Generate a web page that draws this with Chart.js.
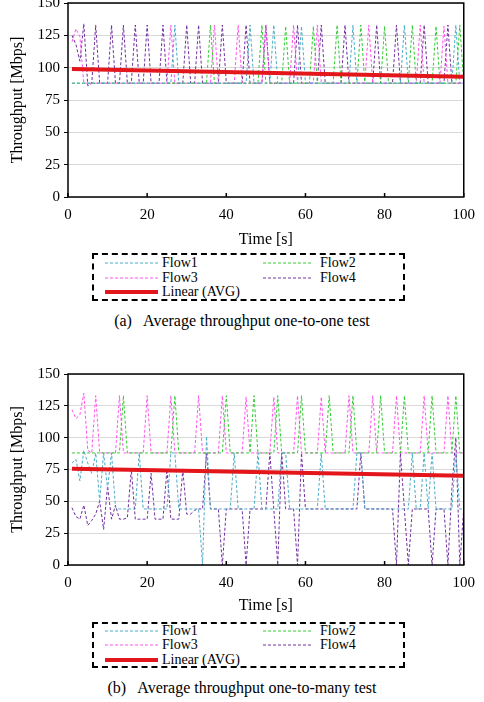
<!DOCTYPE html>
<html>
<head>
<meta charset="utf-8">
<script src="https://cdn.jsdelivr.net/npm/chart.js@4/dist/chart.umd.min.js"></script>
<style>
  html, body { margin: 0; padding: 0; background: #fff; }
  body { width: 484px; height: 702px; position: relative; overflow: hidden;
         font-family: "Liberation Serif", "Times New Roman", serif; color: #000; }
  canvas { position: absolute; left: 0; }
  #chartA { top: -10px; }
  #chartB { top: 340px; }
  .legend { position: absolute; left: 92px; width: 309px; border: 2px dashed #000; }
  .legend svg { position: absolute; }
  .legend span { position: absolute; font-size: 14px; line-height: 14px; white-space: nowrap; }
  .caption { position: absolute; left: 0; width: 484px; text-align: center; font-size: 16px; line-height: 18px; }
</style>
</head>
<body>
<canvas id="chartA" width="484" height="262"></canvas>
<div class="legend" id="legendA" style="top:253px;height:44px"></div>
<div class="caption" style="top:312px">(a)&nbsp;&nbsp; Average throughput one-to-one test</div>

<canvas id="chartB" width="484" height="278"></canvas>
<div class="legend" id="legendB" style="top:622px;height:42px"></div>
<div class="caption" style="top:679px">(b)&nbsp;&nbsp; Average throughput one-to-many test</div>

<script>
// ---- data ----
const times = [
  1,2,3,4,5,6,7,8,9,10, 11,12,13,14,15,16,17,18,19,20,
  21,22,23,24,25,26,27,28,29,30, 31,32,33,34,35,36,37,38,39,40,
  41,42,43,44,45,46,47,48,49,50, 51,52,53,54,55,56,57,58,59,60,
  61,62,63,64,65,66,67,68,69,70, 71,72,73,74,75,76,77,78,79,80,
  81,82,83,84,85,86,87,88,89,90, 91,92,93,94,95,96,97,98,99,100
];
const flowNames = ['Flow1', 'Flow2', 'Flow3', 'Flow4'];
const flowColors = ['#4bacc6', '#33cc33', '#ff55ee', '#7030a0'];
const trendName = 'Linear (AVG)';
const trendColor = '#e3161b';
const trendTimes = [1, 100];

// (a) one-to-one
const a_flow1 = [
  88,88,88,88,88,88,88,88,88,88,  88,88,88,88,88,88,88,88,88,88,
  88,88,88,88,88,88,133,88,88,88, 88,88,88,88,88,88,88,88,88,88,
  88,88,88,88,88,133,88,88,88,88, 88,133,88,88,88,88,88,88,132,88,
  88,88,88,88,88,88,88,88,88,88,  88,133,88,88,88,88,88,88,88,88,
  88,88,88,88,133,88,88,88,88,88, 88,88,88,88,88,88,88,133,88,88
];
const a_flow2 = [
  88,88,88,88,88,88,88,88,88,88,  88,88,88,88,88,88,88,88,88,88,
  88,88,88,88,88,88,88,88,88,88,  88,88,88,88,88,133,88,88,88,88,
  88,88,88,88,88,88,88,88,133,88, 88,88,88,88,132,88,88,88,88,88,
  88,132,88,88,88,88,88,133,88,88, 88,88,88,133,88,88,88,88,88,132,
  88,88,88,88,88,88,133,88,88,88, 88,88,132,88,88,88,88,88,133,88
];
const a_flow3 = [
  120,130,124,88,88,88,88,88,88,88, 88,88,88,88,88,88,88,88,88,88,
  88,88,88,88,88,133,88,88,88,88,   88,88,88,88,88,88,133,88,88,88,
  88,88,133,88,88,88,88,88,88,133,  88,88,88,88,88,88,133,88,88,88,
  88,88,133,88,88,88,88,88,88,88,   88,88,88,88,88,133,88,88,88,88,
  88,88,88,88,88,88,88,88,133,88,   88,88,88,88,132,88,88,88,88,88
];
const a_flow4 = [
  125,118,105,134,86,88,133,88,88,88, 133,88,88,133,88,88,133,88,88,133,
  88,88,88,133,88,88,88,88,88,133,    88,88,133,88,88,88,88,88,133,88,
  88,88,88,88,133,88,88,88,88,133,    88,88,88,88,88,88,88,133,88,88,
  88,88,88,133,88,88,88,88,88,133,    88,88,88,88,88,88,88,133,88,88,
  88,88,133,88,88,88,88,88,88,133,    88,88,88,88,88,133,88,88,88,88
];
const a_trend = [99, 93];

// (b) one-to-many
const b_flow1 = [
  80,83,66,90,80,72,88,50,88,60,  88,45,44,44,44,44,44,88,44,44,
  44,44,44,44,44,88,88,44,44,44,  44,44,44,0,101,44,44,44,44,44,
  44,88,44,44,44,44,44,88,44,44,  44,44,44,88,88,44,44,44,44,44,
  44,44,44,88,44,44,44,44,44,44,  44,44,88,88,44,44,44,44,44,44,
  44,44,44,44,44,44,88,44,44,88,  44,88,44,44,44,44,44,88,44,44
];
const b_flow2 = [
  88,88,88,88,88,88,88,88,88,88,  88,88,88,133,88,88,88,88,88,88,
  88,88,88,88,88,88,133,88,88,88, 88,88,88,88,88,88,88,88,88,133,
  88,88,88,88,88,88,133,88,88,88, 88,88,133,88,88,88,88,88,133,88,
  88,88,88,88,88,133,88,88,88,88, 88,133,88,88,88,88,88,88,133,88,
  88,88,88,88,133,88,88,88,88,88, 88,133,88,88,88,88,88,133,88,88
];
const b_flow3 = [
  122,115,118,135,90,88,133,88,88,88, 88,88,133,88,88,88,88,88,88,133,
  88,88,88,88,88,133,88,88,88,88,     88,88,133,88,88,88,88,88,133,88,
  88,88,88,88,132,88,88,88,88,88,     88,132,88,88,88,88,88,133,88,88,
  88,88,88,132,88,88,88,88,88,88,     133,88,88,88,88,88,133,88,88,88,
  88,88,133,88,88,88,88,88,88,133,    88,88,88,88,88,133,88,88,88,88
];
const b_flow4 = [
  45,38,36,47,31,35,40,50,28,62,  36,47,36,36,37,75,36,36,36,36,
  72,36,36,36,75,36,36,36,75,40,  40,43,44,44,88,44,44,44,0,44,
  44,44,44,44,0,44,44,44,44,44,   88,44,0,88,44,44,44,0,88,44,
  44,44,44,44,44,44,44,44,44,44,  44,44,44,88,44,44,44,44,44,44,
  44,44,0,88,44,0,44,44,44,44,    44,0,44,44,44,0,60,100,0,44
];
const b_trend = [75.5, 70];

// ---- helpers ----
const serif = '"Liberation Serif", "Times New Roman", serif';

// black frame round the plot + short inner ticks on the time axis
const frame = {
  id: 'frame',
  afterDatasetsDraw(chart) {
    const { ctx, chartArea: a, scales: { x } } = chart;
    ctx.save();
    ctx.strokeStyle = '#000';
    ctx.lineWidth = 1.5;
    ctx.strokeRect(a.left, a.top, a.right - a.left, a.bottom - a.top);
    x.ticks.forEach(t => {
      const px = x.getPixelForValue(t.value);
      ctx.beginPath();
      ctx.moveTo(px, a.bottom);
      ctx.lineTo(px, a.bottom - 4);
      ctx.stroke();
    });
    ctx.restore();
  }
};

function buildChart(id, flows, trend, padTop, padRight, xHeight) {
  const datasets = [{
    label: trendName,
    data: trendTimes.map((t, i) => ({ x: t, y: trend[i] })),
    borderColor: trendColor,
    borderWidth: 4,
    pointRadius: 0,
    order: 0
  }];
  flows.forEach((vals, k) => datasets.push({
    label: flowNames[k],
    data: times.map((t, i) => ({ x: t, y: vals[i] })),
    borderColor: flowColors[k],
    borderWidth: 1,
    borderDash: [3, 2],
    pointRadius: 0,
    order: 1
  }));

  return new Chart(document.getElementById(id), {
    type: 'line',
    data: { datasets },
    options: {
      responsive: false,
      animation: false,
      layout: { padding: { top: padTop, right: padRight, left: 0, bottom: 0 } },
      plugins: { legend: { display: false }, tooltip: { enabled: false } },
      scales: {
        x: {
          type: 'linear', min: 0, max: 100,
          ticks: { stepSize: 20, padding: 9, maxRotation: 0, color: '#000', font: { family: serif, size: 15 } },
          grid: { display: false, drawTicks: false },
          border: { display: false },
          title: { display: true, text: 'Time [s]', color: '#000', font: { family: serif, size: 16 }, padding: { top: 0, bottom: 3 } },
          afterFit: s => { s.height = xHeight; }
        },
        y: {
          min: 0, max: 150,
          ticks: { stepSize: 25, padding: 4, color: '#000', font: { family: serif, size: 15 } },
          grid: { color: '#d9d9d9', lineWidth: 1, tickColor: '#000', tickLength: 4 },
          border: { display: false },
          title: { display: true, text: 'Throughput [Mbps]', color: '#000', font: { family: serif, size: 16 }, padding: { top: 8, bottom: 0 } },
          afterFit: s => { s.width = 68; }
        }
      }
    },
    plugins: [frame]
  });
}

function buildLegend(id, rows) {
  const box = document.getElementById(id);
  const entries = flowNames.map((n, k) => ({ name: n, color: flowColors[k], dash: true }))
    .concat([{ name: trendName, color: trendColor, dash: false }]);
  const cols = [{ x: 11, w: 53, tx: 68 }, { x: 169, w: 49, tx: 226 }];
  let html = '';
  entries.forEach((e, i) => {
    const c = cols[i % 2];
    const y = rows[Math.floor(i / 2)];
    const sw = e.dash ? 1 : 4;
    html += `<svg style="left:${c.x}px;top:${y - 4}px" width="${c.w}" height="8">` +
      `<line x1="0" y1="4" x2="${c.w}" y2="4" stroke="${e.color}" stroke-width="${sw}"` +
      (e.dash ? ' stroke-dasharray="3 2"' : '') + '/></svg>' +
      `<span style="left:${c.tx}px;top:${y - 7}px">${e.name}</span>`;
  });
  box.innerHTML = html;
}

buildChart('chartA', [a_flow1, a_flow2, a_flow3, a_flow4], a_trend, 13, 17, 55);
buildChart('chartB', [b_flow1, b_flow2, b_flow3, b_flow4], b_trend, 34, 19, 53);
buildLegend('legendA', [8, 22.5, 37]);
buildLegend('legendB', [7, 21, 36]);
</script>
</body>
</html>
